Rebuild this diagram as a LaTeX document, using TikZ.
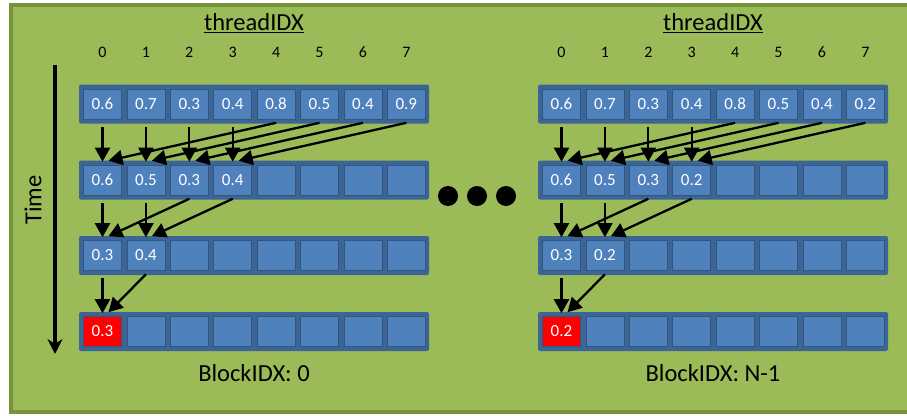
\documentclass[tikz,border=0pt]{standalone}
\usepackage{fontspec}
\setmainfont{Carlito}
\usetikzlibrary{arrows.meta}

\definecolor{panel}{HTML}{9BBB59}
\definecolor{paneledge}{HTML}{77933C}
\definecolor{rowfill}{HTML}{3C6596}
\definecolor{cellfill}{HTML}{4F81BD}
\definecolor{hot}{HTML}{FF0000}

% one row of eight cells: #1 block, #2 row, #3 x offset, #4 y centre, #5 colour of cell 0, #6 values
\newcommand\cellrow[6]{%
  \fill[rowbar] (79+#3,#4-19.5) rectangle (429+#3,#4+19.5);
  \foreach \v [count=\c from 0] in {#6} {%
    \ifnum\c=0 \def\cc{#5}\else\def\cc{cellfill}\fi
    \node[cell, fill=\cc] (#1-#2-\c) at (102.5+43.4*\c+#3,#4) {\v};
  }%
}

% reduction arrows inside one block
\newcommand\reduce[1]{%
  \foreach \i in {0,...,3} {%
    \pgfmathtruncatemacro\j{\i+4}
    \draw[flow] ([yshift=-7.5pt]#1-1-\i.south) -- ([yshift=3pt]#1-2-\i.north);
    \draw[flow] ([yshift=-3.5pt]#1-1-\j.south) -- ([xshift=6pt,yshift=4pt]#1-2-\i.north);
  }
  \foreach \i in {0,1} {%
    \pgfmathtruncatemacro\j{\i+2}
    \draw[flow] ([yshift=-7.5pt]#1-2-\i.south) -- ([yshift=3pt]#1-3-\i.north);
    \draw[flow] ([yshift=-3.5pt]#1-2-\j.south) -- ([xshift=6pt,yshift=4pt]#1-3-\i.north);
  }
  \draw[flow] ([yshift=-7.5pt]#1-3-0.south) -- ([yshift=3pt]#1-4-0.north);
  \draw[flow] ([yshift=-3.5pt]#1-3-1.south) -- ([xshift=6pt,yshift=4pt]#1-4-0.north);
}

\begin{document}
\begin{tikzpicture}[x=1pt,y=-1pt,
  cell/.style={minimum width=38pt, minimum height=30pt, inner sep=0pt,
    draw=rowfill!85!black, line width=0.6pt,
    text=white, font=\fontsize{17}{18}\selectfont},
  rowbar/.style={fill=rowfill, rounded corners=2pt},
  flow/.style={line width=2.3pt, -{Triangle[length=14pt,width=15pt]}},
  title/.style={font=\fontsize{24.5}{27}\selectfont},
  colnum/.style={font=\fontsize{16}{17}\selectfont},
  dot/.style={circle, fill=black, minimum size=20pt, inner sep=0pt}]

\useasboundingbox (0,0) rectangle (907,415);
\fill[white] (0,0) rectangle (907,415);
\draw[fill=panel, draw=paneledge, line width=4pt] (10.5,4.5) rectangle (930,411.5);

% time axis
\coordinate (ttop) at (55,65);
\coordinate (tbot) at (55,354);
\draw[line width=3.5pt, -{Stealth[length=15pt,width=15pt,inset=5pt]}] (ttop) -- (tbot);
\node[title, rotate=90] (time) at (33,200) {Time};

% block 0
\cellrow{L}{1}{0}{104}{cellfill}{0.6,0.7,0.3,0.4,0.8,0.5,0.4,0.9}
\cellrow{L}{2}{0}{180}{cellfill}{0.6,0.5,0.3,0.4,{},{},{},{}}
\cellrow{L}{3}{0}{255.5}{cellfill}{0.3,0.4,{},{},{},{},{},{}}
\cellrow{L}{4}{0}{331.5}{hot}{0.3,{},{},{},{},{},{},{}}
\reduce{L}

% block N-1
\cellrow{R}{1}{459}{104}{cellfill}{0.6,0.7,0.3,0.4,0.8,0.5,0.4,0.2}
\cellrow{R}{2}{459}{180}{cellfill}{0.6,0.5,0.3,0.2,{},{},{},{}}
\cellrow{R}{3}{459}{255.5}{cellfill}{0.3,0.2,{},{},{},{},{},{}}
\cellrow{R}{4}{459}{331.5}{hot}{0.2,{},{},{},{},{},{},{}}
\reduce{R}

% thread indices above each block
\foreach \b in {L,R} {
  \foreach \c in {0,...,7} {
    \node[colnum] (\b-n\c) at (\b-1-\c |- 0,52) {\c};
  }
}
\node[title] (tidL) at (254,23) {\underline{threadIDX}};
\node[title] (tidR) at (713,23) {\underline{threadIDX}};

% block labels
\node[title] (bidL) at (254,373) {BlockIDX: 0};
\node[title] (bidR) at (713,373) {BlockIDX: N-1};

% ellipsis between the blocks
\node[dot] (d1) at (448,196) {};
\node[dot] (d2) at (477,196) {};
\node[dot] (d3) at (506,196) {};

\end{tikzpicture}
\end{document}
